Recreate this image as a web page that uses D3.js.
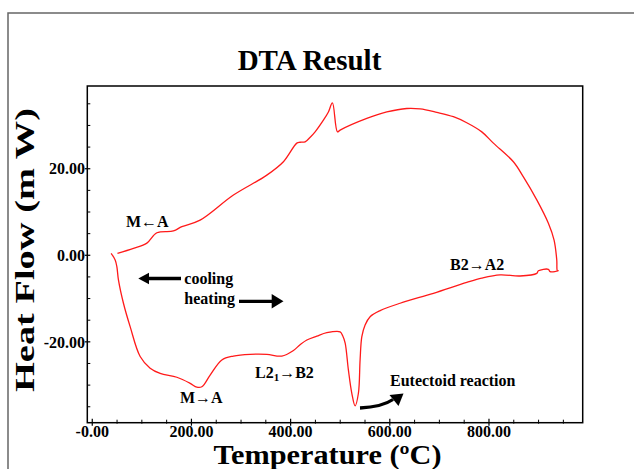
<!DOCTYPE html>
<html><head><meta charset="utf-8">
<script src="https://cdn.jsdelivr.net/npm/d3@7"></script>
<style>
html,body{margin:0;padding:0;background:#fff;}
svg text{font-family:"Liberation Serif","Times New Roman",serif;font-weight:bold;fill:#000;}
</style></head><body>
<svg id="c" width="634" height="469"></svg>
<script>
// ---- data ----
const heatT  = [39.1,47.2,50.6,53.8,63.9,77.4,97.6,117.7,137.9,171.6,198.4,211.9,222,238.7,262.3,285.7,319.4,353,383.3,406.7,420,433.7,453.8,474,500.8,506,511,517.5,524.4,531,537.7,541.1,544.6,551.2,561.3,581.5,621.8,689,756.2,786.5,823.4,863.7,897.4,900.6,920.8,924.2,941];
const heatHF = [0.35,-1.2,-2.75,-5.8,-11.2,-16.6,-23.5,-26.2,-27.4,-28.3,-29.7,-30.6,-30.5,-27.8,-24.3,-23.4,-23.0,-23.0,-23.4,-22.1,-20.8,-19.7,-18.8,-18.0,-17.8,-18.7,-20.4,-26.6,-32.0,-34.9,-32.0,-24.3,-18.9,-16.2,-14.3,-12.9,-11.2,-8.9,-6.4,-5.4,-4.65,-4.9,-4.3,-3.7,-3.35,-3.9,-3.7];
const coolT  = [938.9,937.7,932.3,920.8,897.4,870.4,850.2,809.9,786.5,756.2,729.2,695.8,662.1,635.3,595,554.6,500.8,495.4,485.3,477.2,467.1,450.4,440,430.2,420,413.5,386.5,353,285.7,218.5,181.7,164.7,131.3,111.1,84.1,51.8];
const coolHF = [-3.7,-1.2,3.4,7.3,12.7,18.0,21.5,25.8,28.4,30.5,31.9,32.9,33.7,33.8,33.0,31.5,28.8,28.4,35.1,33.0,31.1,28.4,27.1,26.1,26.0,25.8,21.5,18.4,13.8,8.0,6.5,5.5,5.1,2.7,1.5,0.35];
const xMajor = [0,200,400,600,800];
const xLabels = ["-0.00","200.00","400.00","600.00","800.00"];
const yMajor = [-20,0,20];
const yLabels = ["-20.00","0.00","20.00"];

// ---- layout ----
const svg = d3.select("#c");
const L = 87.3, R = 582.7, T = 86, B = 422.7;
const x = d3.scaleLinear().domain([-9, 990]).range([L, R]);
const y = d3.scaleLinear().domain([-38.8, 39.0]).range([B, T]);

// outer frame
svg.append("rect").attr("x",8).attr("y",13).attr("width",700).attr("height",500)
  .attr("fill","none").attr("stroke","#666").attr("stroke-width",1.5);

// title
svg.append("text").attr("x",309.5).attr("y",70).attr("text-anchor","middle")
  .style("font-size","29px").text("DTA Result");

// plot box
svg.append("rect").attr("x",L).attr("y",T).attr("width",R-L).attr("height",B-T)
  .attr("fill","none").attr("stroke","#000").attr("stroke-width",1.5);

// x axis ticks
const xMinor = d3.range(50, 951, 50).filter(v => !xMajor.includes(v));
const gxm = svg.append("g").attr("transform",`translate(0,${B})`)
  .call(d3.axisBottom(x).tickValues(xMinor).tickSize(3).tickFormat(""));
gxm.select(".domain").remove();
gxm.selectAll(".tick line").attr("y1",-3).attr("y2",1).attr("stroke-width",1);
const gx = svg.append("g").attr("transform",`translate(0,${B})`)
  .call(d3.axisBottom(x).tickValues(xMajor).tickSize(4).tickPadding(0)
    .tickFormat((d,i)=>xLabels[i]));
gx.select(".domain").remove();
gx.selectAll(".tick line").attr("y1",-4).attr("y2",3).attr("stroke-width",1.2);
gx.selectAll(".tick text").attr("y",14).attr("dy",0)
  .style("font-size","16px").style("font-family","'Liberation Serif',serif").style("font-weight","bold");

// y axis ticks
const yMinor = d3.range(-35, 36, 5).filter(v => !yMajor.includes(v));
const gym = svg.append("g").attr("transform",`translate(${L},0)`)
  .call(d3.axisLeft(y).tickValues(yMinor).tickSize(3).tickFormat(""));
gym.select(".domain").remove();
gym.selectAll(".tick line").attr("x1",3).attr("x2",0).attr("stroke-width",1);
const gy = svg.append("g").attr("transform",`translate(${L},0)`)
  .call(d3.axisLeft(y).tickValues(yMajor).tickSize(3).tickPadding(0)
    .tickFormat((d,i)=>yLabels[i]));
gy.select(".domain").remove();
gy.selectAll(".tick line").attr("x1",3).attr("x2",-2.5).attr("stroke-width",1.2);
gy.selectAll(".tick text").attr("x",-2.3).attr("dy","0.36em")
  .style("font-size","16px").style("font-family","'Liberation Serif',serif").style("font-weight","bold");

// axis titles
svg.append("text").attr("x",327.5).attr("y",464).attr("text-anchor","middle")
  .attr("textLength",228).attr("lengthAdjust","spacingAndGlyphs")
  .style("font-size","27px").text("Temperature (ºC)");
svg.append("text").attr("transform","translate(34,250) rotate(-90)").attr("text-anchor","middle")
  .attr("textLength",284).attr("lengthAdjust","spacingAndGlyphs")
  .style("font-size","28px").text("Heat Flow (m W)");

// curve
const pts = heatT.map((t,i)=>[t,heatHF[i]]).concat(coolT.map((t,i)=>[t,coolHF[i]]));
const line = d3.line().x(d=>x(d[0])).y(d=>y(d[1])).curve(d3.curveCatmullRom.alpha(0.5));
svg.append("path").attr("d",line(pts)).attr("fill","none")
  .attr("stroke","#ff1a1a").attr("stroke-width",1.3).attr("stroke-linejoin","round");

// annotations
const ann = (tx,ty,s,fs)=>svg.append("text").attr("x",tx).attr("y",ty).style("font-size",(fs||16)+"px").text(s);
ann(126,226.7,"M←A");
ann(184.3,284,"cooling");
ann(184.3,303.5,"heating");
ann(180,403.3,"M→A");
ann(450,270,"B2→A2");
ann(390,386,"Eutectoid reaction");
const l21 = svg.append("text").attr("x",255).attr("y",378.3).style("font-size","16px");
l21.append("tspan").text("L2");
l21.append("tspan").attr("dy",3).style("font-size","11px").text("1");
l21.append("tspan").attr("dy",-3).text("→B2");

// arrows
svg.append("line").attr("x1",147).attr("x2",181).attr("y1",278.5).attr("y2",278.5)
  .attr("stroke","#000").attr("stroke-width",3.3);
svg.append("path").attr("d","M138.3,278.5 L149,272.7 L149,284.3 Z").attr("fill","#000");
svg.append("line").attr("x1",239).attr("x2",274).attr("y1",301.3).attr("y2",301.3)
  .attr("stroke","#000").attr("stroke-width",3.3);
svg.append("path").attr("d","M283.5,301.3 L271.7,294 L271.7,308.5 Z").attr("fill","#000");
svg.append("path").attr("d","M360,408 Q382,407 393,399.5").attr("fill","none")
  .attr("stroke","#000").attr("stroke-width",3.3);
svg.append("path").attr("d","M403.5,393.5 L389.5,395 L398.5,406 Z").attr("fill","#000");
</script>
</body></html>
